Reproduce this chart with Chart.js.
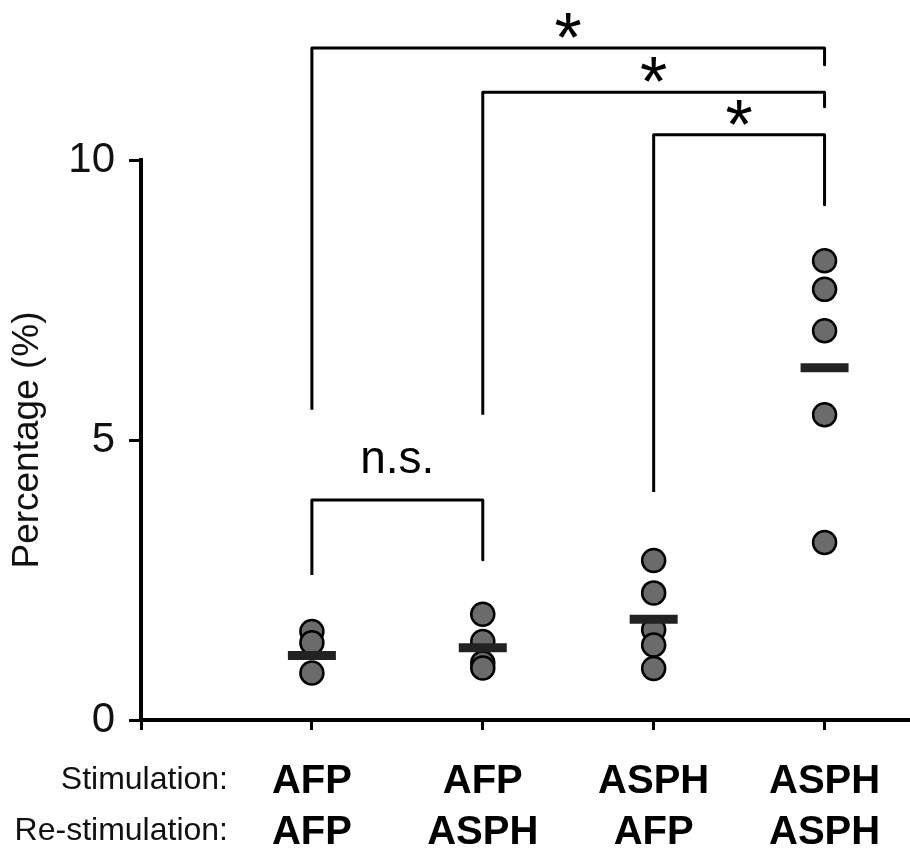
<!DOCTYPE html>
<html>
<head>
<meta charset="utf-8">
<script src="https://cdn.jsdelivr.net/npm/chart.js@4.4.0/dist/chart.umd.min.js"></script>
<style>
html,body{margin:0;padding:0;background:#fff;}
#wrap{width:910px;height:848px;}
</style>
</head>
<body>
<div id="wrap"><canvas id="c" width="910" height="848"></canvas></div>
<script>
// ---- data ----
const categories = [0, 1, 2, 3];
const stimulation = ['AFP', 'AFP', 'ASPH', 'ASPH'];
const restimulation = ['AFP', 'ASPH', 'AFP', 'ASPH'];
const rowHeaders = ['Stimulation:', 'Re-stimulation:'];
const groupAFP_AFP = [1.58, 1.38, 0.84];
const groupAFP_ASPH = [1.89, 1.40, 1.02, 0.93];
const groupASPH_AFP = [2.85, 2.27, 1.61, 1.34, 0.92];
const groupASPH_ASPH = [8.20, 7.69, 6.95, 5.45, 3.17];
const means = [1.15, 1.29, 1.80, 6.29];
const yTicks = [0, 5, 10];
const yTitle = 'Percentage (%)';
// significance brackets
const bracketFrom = [0, 1, 2, 0];
const bracketTo = [3, 3, 3, 1];
const bracketY = [12.0, 11.21, 10.45, 3.93];
const bracketLeftEnd = [5.54, 5.45, 4.07, 2.59];
const bracketRightEnd = [11.7, 10.95, 9.2, 2.86];
const bracketLabel = ['*', '*', '*', 'n.s.'];

const FONT = '"Liberation Sans", Arial, Helvetica, sans-serif';
const groups = [groupAFP_AFP, groupAFP_ASPH, groupASPH_AFP, groupASPH_ASPH];

const dotPoints = [];
groups.forEach((g, i) => g.forEach(v => dotPoints.push({x: categories[i], y: v})));
const meanPoints = means.map((v, i) => ({x: categories[i], y: v}));

const bracketSets = bracketFrom.map((f, i) => ({
  type: 'line',
  data: [
    {x: f, y: bracketLeftEnd[i]},
    {x: f, y: bracketY[i]},
    {x: bracketTo[i], y: bracketY[i]},
    {x: bracketTo[i], y: bracketRightEnd[i]}
  ],
  borderColor: '#000',
  borderWidth: 3,
  borderJoinStyle: 'round',
  pointRadius: 0,
  fill: false,
  tension: 0,
  clip: false,
  order: 2
}));

const annotPlugin = {
  id: 'annot',
  afterDatasetsDraw(chart) {
    const ctx = chart.ctx;
    const xs = chart.scales.x, ys = chart.scales.y;
    ctx.save();
    ctx.fillStyle = '#000';
    ctx.textAlign = 'center';
    bracketLabel.forEach((lab, i) => {
      const cx = xs.getPixelForValue((bracketFrom[i] + bracketTo[i]) / 2);
      const by = ys.getPixelForValue(bracketY[i]);
      if (lab === '*') {
        const F = 70;
        ctx.font = '400 ' + F + 'px ' + FONT;
        ctx.textBaseline = 'alphabetic';
        ctx.fillText(lab, cx, by - 26 + 0.57 * F);
      } else {
        ctx.font = '400 46px ' + FONT;
        ctx.textBaseline = 'alphabetic';
        ctx.fillText(lab, cx, by - 27);
      }
    });
    // row headers
    ctx.font = '400 32px ' + FONT;
    ctx.textAlign = 'right';
    ctx.textBaseline = 'middle';
    ctx.fillStyle = '#111';
    ctx.fillText(rowHeaders[0], 228, 780);
    ctx.fillText(rowHeaders[1], 228, 831);
    ctx.restore();
  }
};

new Chart(document.getElementById('c'), {
  type: 'scatter',
  data: {
    datasets: [
      {
        label: 'mean',
        data: meanPoints,
        pointStyle: 'line',
        pointRadius: 24,
        pointHoverRadius: 24,
        borderWidth: 9,
        pointBorderWidth: 9,
        borderColor: '#222',
        pointBorderColor: '#222',
        order: 0
      },
      {
        label: 'values',
        data: dotPoints,
        pointStyle: 'circle',
        pointRadius: 11.5,
        pointHoverRadius: 11.5,
        pointBackgroundColor: '#6b6b6b',
        pointBorderColor: '#000',
        pointBorderWidth: 2.5,
        order: 1
      },
      ...bracketSets
    ]
  },
  options: {
    responsive: false,
    animation: false,
    events: [],
    layout: {autoPadding: false, padding: {top: 160, right: 0, left: 0, bottom: 0}},
    plugins: {legend: {display: false}, tooltip: {enabled: false}},
    scales: {
      x: {
        type: 'linear',
        min: -1,
        max: 3.5,
        afterBuildTicks(scale) {
          scale.ticks = [-1].concat(categories).map(v => ({value: v}));
        },
        afterFit(scale) {
          scale.height = 128;
          scale.paddingLeft = 0;
          scale.paddingRight = 0;
        },
        border: {display: true, color: '#000', width: 4},
        grid: {drawOnChartArea: false, drawTicks: true, tickLength: 10, tickColor: '#000', tickWidth: 3},
        ticks: {
          autoSkip: false,
          maxRotation: 0,
          padding: 26,
          color: '#000',
          font: {family: FONT, size: 40, weight: 'bold', lineHeight: 1.28},
          callback(v) {
            const i = categories.indexOf(v);
            return i >= 0 ? [stimulation[i], restimulation[i]] : '';
          }
        }
      },
      y: {
        type: 'linear',
        min: 0,
        max: 10,
        afterBuildTicks(scale) {
          scale.ticks = yTicks.map(v => ({value: v}));
        },
        afterFit(scale) {
          scale.width = 141;
          scale.paddingTop = 0;
          scale.paddingBottom = 0;
        },
        border: {display: true, color: '#000', width: 4},
        grid: {drawOnChartArea: false, drawTicks: true, tickLength: 12, tickColor: '#000', tickWidth: 3},
        ticks: {
          padding: 14,
          color: '#111',
          font: {family: FONT, size: 42, weight: 'normal'}
        },
        title: {
          display: true,
          text: yTitle,
          color: '#111',
          font: {family: FONT, size: 37, weight: 'normal'},
          padding: {top: 6, bottom: 0}
        }
      }
    }
  },
  plugins: [annotPlugin]
});
</script>
</body>
</html>
